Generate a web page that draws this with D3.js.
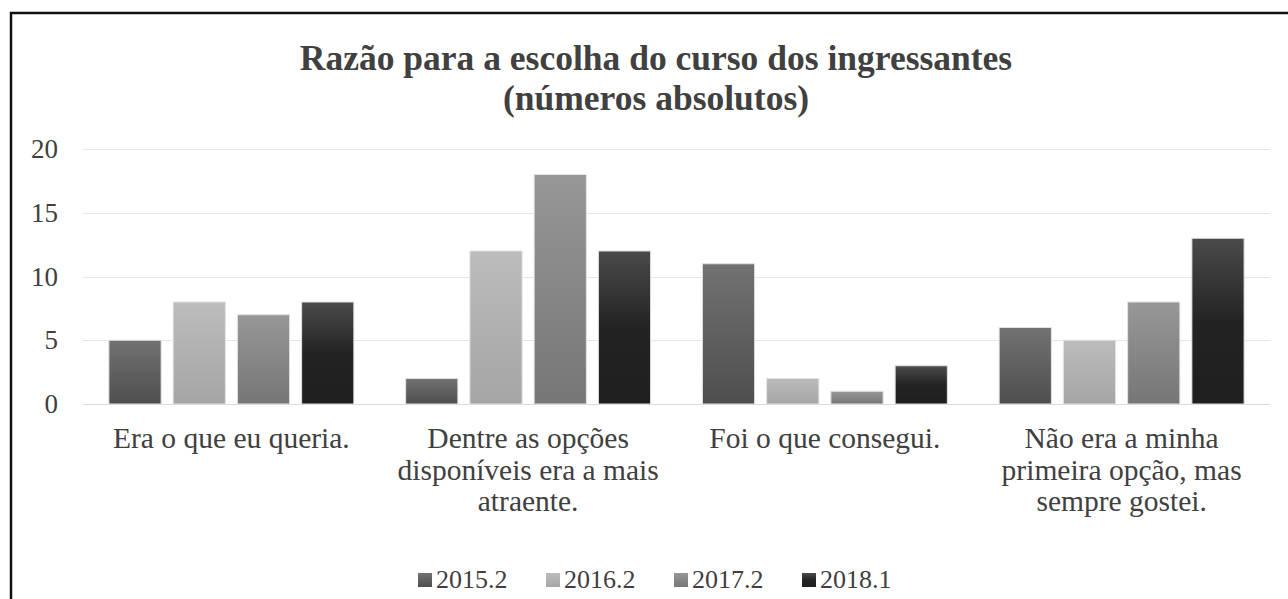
<!DOCTYPE html>
<html>
<head>
<meta charset="utf-8">
<script src="https://cdn.jsdelivr.net/npm/d3@7"></script>
<style>
  body { margin: 0; background: #fff; }
</style>
</head>
<body>
<script>
// data
const categories = [
  ["Era o que eu queria."],
  ["Dentre as opções", "disponíveis era a mais", "atraente."],
  ["Foi o que consegui."],
  ["Não era a minha", "primeira opção, mas", "sempre gostei."]
];
const seriesNames = ["2015.2", "2016.2", "2017.2", "2018.1"];
const v2015 = [5, 2, 11, 6];
const v2016 = [8, 12, 2, 5];
const v2017 = [7, 18, 1, 8];
const v2018 = [8, 12, 3, 13];
const yTicks = [0, 5, 10, 15, 20];

const seriesValues = [v2015, v2016, v2017, v2018];
// gradient colours top -> bottom for each series
const grads = [["#727272", "#4e4e4e"], ["#bcbcbc", "#a5a5a5"], ["#979797", "#767676"], ["#4b4b4b", "#1f1f1f"]];

const font = "'Liberation Serif', 'Times New Roman', serif";
const w = 1288, h = 599;
const margin = {left: 83, right: 18, top: 149, bottom: 195};

const svg = d3.select("body").append("svg")
  .attr("width", w).attr("height", h)
  .attr("font-family", font);

const defs = svg.append("defs");
grads.forEach((g, i) => {
  const lg = defs.append("linearGradient").attr("id", "g" + i)
    .attr("x1", 0).attr("y1", 0).attr("x2", 0).attr("y2", 1);
  lg.append("stop").attr("offset", "0%").attr("stop-color", g[0]);
  if (i == 3) lg.append("stop").attr("offset", "50%").attr("stop-color", "#232323");
  lg.append("stop").attr("offset", "100%").attr("stop-color", g[1]);
});

// frame
svg.append("rect").attr("x", 11).attr("y", 13).attr("width", 1300).attr("height", 620)
  .attr("fill", "#fff").attr("stroke", "#111").attr("stroke-width", 2.5);

const x0 = d3.scaleBand().domain(d3.range(categories.length))
  .range([margin.left, w - margin.right]);
const y = d3.scaleLinear().domain([0, 20]).range([h - margin.bottom, margin.top]);

// bars within category
const barW = x0.bandwidth() * 0.176;
const step = barW * 1.23;
const groupW = step * 3 + barW;

// gridlines
svg.append("g").selectAll("line").data(yTicks).join("line")
  .attr("x1", margin.left).attr("x2", w - margin.right)
  .attr("y1", d => Math.round(y(d)) + 0.5).attr("y2", d => Math.round(y(d)) + 0.5)
  .attr("stroke", (d) => d == 0 ? "#d9d9d9" : "#e3e6ea").attr("stroke-width", 1.2);

// y labels
svg.append("g").selectAll("text").data(yTicks).join("text")
  .attr("x", 58).attr("y", d => y(d) + 9)
  .attr("text-anchor", "end").attr("font-size", "27px").attr("fill", "#404040")
  .text(d => d);

// bars
seriesValues.forEach((vals, s) => {
  svg.append("g").selectAll("rect").data(vals).join("rect")
    .attr("x", (d, i) => x0(i) + (x0.bandwidth() - groupW) / 2 + s * step)
    .attr("y", d => y(d))
    .attr("width", barW)
    .attr("height", d => y(0) - y(d))
    .attr("fill", "url(#g" + s + ")")
    .attr("stroke", "#e2e2e2").attr("stroke-width", 1);
});

// category labels
const cat = svg.append("g").selectAll("text").data(categories).join("text")
  .attr("text-anchor", "middle").attr("font-size", "29.5px").attr("fill", "#404040")
  .attr("x", (d, i) => x0(i) + x0.bandwidth() / 2)
  .attr("y", 448);
cat.selectAll("tspan").data(d => d).join("tspan")
  .attr("x", function() { return this.parentNode.getAttribute("x"); })
  .attr("dy", (d, i) => i == 0 ? 0 : 31.5)
  .text(d => d);

// title
svg.append("text").attr("x", 656).attr("y", 70).attr("text-anchor", "middle")
  .attr("font-size", "35.5px").attr("font-weight", "bold").attr("fill", "#404040")
  .text("Razão para a escolha do curso dos ingressantes");
svg.append("text").attr("x", 656).attr("y", 110).attr("text-anchor", "middle")
  .attr("font-size", "35.5px").attr("font-weight", "bold").attr("fill", "#404040")
  .text("(números absolutos)");

// legend
const leg = svg.append("g").selectAll("g").data(seriesNames).join("g")
  .attr("transform", (d, i) => `translate(${418 + i * 128},573)`);
leg.append("rect").attr("width", 14).attr("height", 14)
  .attr("fill", (d, i) => `url(#g${i})`);
leg.append("text").attr("x", 18).attr("y", 15).attr("font-size", "26px").attr("fill", "#404040")
  .text(d => d);
</script>
</body>
</html>
